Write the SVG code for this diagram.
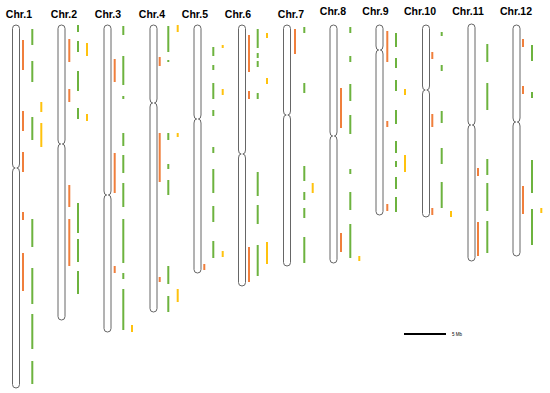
<svg xmlns="http://www.w3.org/2000/svg" width="550" height="393" viewBox="0 0 550 393">
<style>
.lbl{font-family:"Liberation Sans",Arial,sans-serif;font-weight:bold;font-size:10.5px;text-anchor:middle;fill:#000}
.chr{fill:#fff;stroke:#666;stroke-width:1}
.o{stroke:#F07F3C;stroke-width:2;fill:none}
.g{stroke:#6DB33F;stroke-width:2;fill:none}
.y{stroke:#FFC20E;stroke-width:2;fill:none}
</style>
<rect width="550" height="393" fill="#fff"/>
<g id="chr1">
<text class="lbl" x="19" y="18">Chr.1</text>
<path class="chr" d="M12.5,28.5 A3.5,3.5 0 0 1 19.5,28.5 L19.5,164 Q19.5,168 16.8,168 Q19.5,168 19.5,172 L19.5,384.5 A3.5,3.5 0 0 1 12.5,384.5 L12.5,172 Q12.5,168 15.2,168 Q12.5,168 12.5,164 Z"/>
<path class="o" d="M23,40V70M23,111V131M23,152V172M23,212V220M23,253V291"/>
<path class="g" d="M32.3,29V45M32.3,61V82M32.3,117V140M32.3,219V247M32.3,268V304M32.3,314V349M32.3,361V384"/>
<path class="y" d="M41.3,102V112M41.3,123V147"/>
</g>
<g id="chr2">
<text class="lbl" x="64" y="18">Chr.2</text>
<path class="chr" d="M58,28.5 A3.5,3.5 0 0 1 65,28.5 L65,140 Q65,144 62.3,144 Q65,144 65,148 L65,316.5 A3.5,3.5 0 0 1 58,316.5 L58,148 Q58,144 60.7,144 Q58,144 58,140 Z"/>
<path class="o" d="M69.3,39V62M69.3,89V102M69.3,185V207M69.3,219V266"/>
<path class="g" d="M78,25V32M78,41V52M78,71V91M78,108V119M78,203V233M78,239V262M78,271V294"/>
<path class="y" d="M87,43V56M87,114V121"/>
</g>
<g id="chr3">
<text class="lbl" x="108" y="18">Chr.3</text>
<path class="chr" d="M104,28.5 A3.5,3.5 0 0 1 111,28.5 L111,191 Q111,195 108.3,195 Q111,195 111,199 L111,328.5 A3.5,3.5 0 0 1 104,328.5 L104,199 Q104,195 106.7,195 Q104,195 104,191 Z"/>
<path class="o" d="M114.7,59V82M114.7,153V193M114.7,266V273"/>
<path class="g" d="M123.3,26V35M123.3,56V85M123.3,96V99M123.3,133V146M123.3,155V173M123.3,183V207M123.3,219V263M123.3,273V279M123.3,289V330"/>
<path class="y" d="M132,325V332"/>
</g>
<g id="chr4">
<text class="lbl" x="152" y="18">Chr.4</text>
<path class="chr" d="M150,28.5 A3.5,3.5 0 0 1 157,28.5 L157,99 Q157,103 154.3,103 Q157,103 157,107 L157,308.5 A3.5,3.5 0 0 1 150,308.5 L150,107 Q150,103 152.7,103 Q150,103 150,99 Z"/>
<path class="o" d="M159.7,57V66M159.7,133V182M159.7,277V282"/>
<path class="g" d="M168.3,26V52M168.3,60V62M168.3,133V140M168.3,164V169M168.3,180V195M168.3,266V284M168.3,296V312"/>
<path class="y" d="M177.7,25V32M177.7,133V137M177.7,289V302"/>
</g>
<g id="chr5">
<text class="lbl" x="195" y="18">Chr.5</text>
<path class="chr" d="M194,28.5 A3.5,3.5 0 0 1 201,28.5 L201,115 Q201,119 198.3,119 Q201,119 201,123 L201,269.5 A3.5,3.5 0 0 1 194,269.5 L194,123 Q194,119 196.7,119 Q194,119 194,115 Z"/>
<path class="o" d="M204.3,264V270"/>
<path class="g" d="M213.3,47V56M213.3,65V70M213.3,83V99M213.3,110V116M213.3,147V153M213.3,169V193M213.3,206V222M213.3,241V258"/>
<path class="y" d="M222.7,45V48M222.7,89V95M222.7,251V257"/>
</g>
<g id="chr6">
<text class="lbl" x="238" y="18">Chr.6</text>
<path class="chr" d="M238.5,28.5 A3.5,3.5 0 0 1 245.5,28.5 L245.5,150 Q245.5,154 242.8,154 Q245.5,154 245.5,158 L245.5,282.5 A3.5,3.5 0 0 1 238.5,282.5 L238.5,158 Q238.5,154 241.2,154 Q238.5,154 238.5,150 Z"/>
<path class="o" d="M249,35V72M249,91V99M249,247V282"/>
<path class="g" d="M257.7,29V48M257.7,53V58M257.7,61V67M257.7,93V99M257.7,172V196M257.7,205V224M257.7,245V276"/>
<path class="y" d="M267,33V38M267,78V84M267,242V264"/>
</g>
<g id="chr7">
<text class="lbl" x="291" y="18">Chr.7</text>
<path class="chr" d="M283.5,28.5 A3.5,3.5 0 0 1 290.5,28.5 L290.5,111 Q290.5,115 287.8,115 Q290.5,115 290.5,119 L290.5,262.5 A3.5,3.5 0 0 1 283.5,262.5 L283.5,119 Q283.5,115 286.2,115 Q283.5,115 283.5,111 Z"/>
<path class="o" d="M295,29V54"/>
<path class="g" d="M304.3,27V33M304.3,83V93M304.3,166V181M304.3,192V200M304.3,208V218M304.3,237V263"/>
<path class="y" d="M312.7,183V193"/>
</g>
<g id="chr8">
<text class="lbl" x="333" y="15">Chr.8</text>
<path class="chr" d="M330,28.5 A3.5,3.5 0 0 1 337,28.5 L337,132 Q337,136 334.3,136 Q337,136 337,140 L337,259.5 A3.5,3.5 0 0 1 330,259.5 L330,140 Q330,136 332.7,136 Q330,136 330,132 Z"/>
<path class="o" d="M341,88V128M341,233V252"/>
<path class="g" d="M350.3,27V33M350.3,56V62M350.3,84V101M350.3,115V134M350.3,169V174M350.3,192V210M350.3,224V258"/>
<path class="y" d="M359.3,256V261"/>
</g>
<g id="chr9">
<text class="lbl" x="375.5" y="15">Chr.9</text>
<path class="chr" d="M376,28.5 A3.5,3.5 0 0 1 383,28.5 L383,46 Q383,50 380.3,50 Q383,50 383,54 L383,211.5 A3.5,3.5 0 0 1 376,211.5 L376,54 Q376,50 378.7,50 Q376,50 376,46 Z"/>
<path class="o" d="M387.3,31V62M387.3,121V127M387.3,204V211"/>
<path class="g" d="M396,33V47M396,58V68M396,80V91M396,110V124M396,141V153M396,161V167M396,177V189M396,197V212"/>
<path class="y" d="M405,89V95M405,155V172"/>
</g>
<g id="chr10">
<text class="lbl" x="420" y="15">Chr.10</text>
<path class="chr" d="M422.5,28.5 A3.5,3.5 0 0 1 429.5,28.5 L429.5,86 Q429.5,90 426.8,90 Q429.5,90 429.5,94 L429.5,213.5 A3.5,3.5 0 0 1 422.5,213.5 L422.5,94 Q422.5,90 425.2,90 Q422.5,90 422.5,86 Z"/>
<path class="o" d="M432.3,52V59M432.3,114V127M432.3,208V215"/>
<path class="g" d="M441.7,32V36M441.7,65V71M441.7,111V123M441.7,148V164M441.7,182V208"/>
<path class="y" d="M451,211V217"/>
</g>
<g id="chr11">
<text class="lbl" x="468" y="15">Chr.11</text>
<path class="chr" d="M468,27.5 A3.5,3.5 0 0 1 475,27.5 L475,121 Q475,125 472.3,125 Q475,125 475,129 L475,257.5 A3.5,3.5 0 0 1 468,257.5 L468,129 Q468,125 470.7,125 Q468,125 468,121 Z"/>
<path class="o" d="M478,168V176M478,222V256"/>
<path class="g" d="M487.3,44V62M487.3,83V110M487.3,159V175M487.3,183V211M487.3,221V253"/>
</g>
<g id="chr12">
<text class="lbl" x="516" y="15">Chr.12</text>
<path class="chr" d="M513,28.5 A3.5,3.5 0 0 1 520,28.5 L520,118 Q520,122 517.3,122 Q520,122 520,126 L520,252.5 A3.5,3.5 0 0 1 513,252.5 L513,126 Q513,122 515.7,122 Q513,122 513,118 Z"/>
<path class="o" d="M523,39V47M523,86V94M523,186V214"/>
<path class="g" d="M532,45V61M532,92V98M532,160V193M532,209V245"/>
<path class="y" d="M541.3,208V213"/>
</g>
<g id="scale">
<line x1="404" y1="334" x2="446" y2="334" stroke="#000" stroke-width="2"/>
<text x="452" y="335.5" font-family="Liberation Sans, Arial, sans-serif" font-size="4.5" fill="#000">5 Mb</text>
</g>
</svg>
